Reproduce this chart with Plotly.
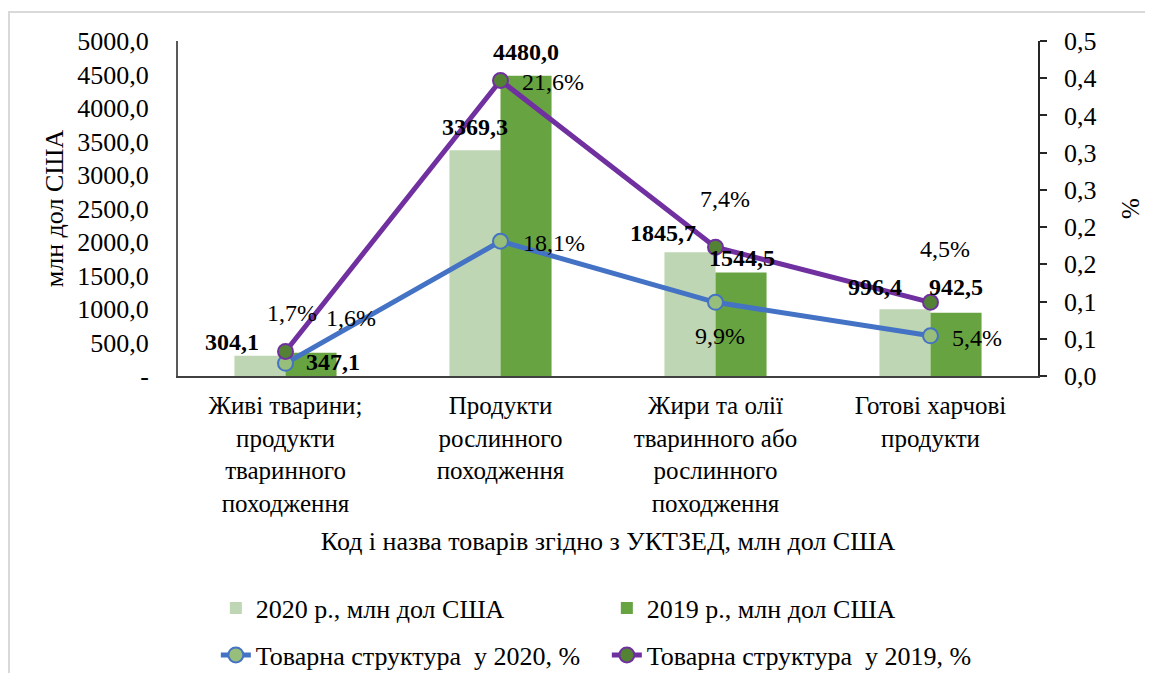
import plotly.graph_objects as go

categories = [
    "Живі тварини;<br>продукти<br>тваринного<br>походження",
    "Продукти<br>рослинного<br>походження",
    "Жири та олії<br>тваринного або<br>рослинного<br>походження",
    "Готові харчові<br>продукти",
]
values_2020 = [304.1, 3369.3, 1845.7, 996.4]
values_2019 = [347.1, 4480.0, 1544.5, 942.5]
labels_2020 = ["304,1", "3369,3", "1845,7", "996,4"]
labels_2019 = ["347,1", "4480,0", "1544,5", "942,5"]
# commodity structure shares (the 2019 line is stacked on top of the 2020 line)
struct_2020 = [0.017, 0.181, 0.099, 0.054]
struct_2019 = [0.016, 0.216, 0.074, 0.045]
struct_2020_text = ["1,7%", "18,1%", "9,9%", "5,4%"]
struct_2019_text = ["1,6%", "21,6%", "7,4%", "4,5%"]
left_ticks = [0, 500, 1000, 1500, 2000, 2500, 3000, 3500, 4000, 4500, 5000]
left_ticktext = ["-", "500,0", "1000,0", "1500,0", "2000,0", "2500,0", "3000,0",
                 "3500,0", "4000,0", "4500,0", "5000,0"]
right_ticks = [0, 0.05, 0.1, 0.15, 0.2, 0.25, 0.3, 0.35, 0.4, 0.45]
right_ticktext = ["0,0", "0,1", "0,1", "0,2", "0,2", "0,3", "0,3", "0,4", "0,4", "0,5"]

FONT = "Liberation Serif"
LIGHT = "#bed6b3"
DARK = "#68a342"
BLUE = "#4472c4"
PURPLE = "#7030a0"

fig = go.Figure()
fig.add_trace(go.Bar(x=categories, y=values_2020, name="2020 р., млн дол США",
                     marker=dict(color=LIGHT, line=dict(width=0)), legend="legend"))
fig.add_trace(go.Bar(x=categories, y=values_2019, name="2019 р., млн дол США",
                     marker=dict(color=DARK, line=dict(width=0)), legend="legend"))
fig.add_trace(go.Scatter(x=categories, y=struct_2020, yaxis="y2", mode="lines+markers",
                         stackgroup="struct", fill="none",
                         name="Товарна структура  у 2020, %",
                         line=dict(color=BLUE, width=5),
                         marker=dict(size=15, color="#97be7a", line=dict(color=BLUE, width=2)),
                         legend="legend2"))
fig.add_trace(go.Scatter(x=categories, y=struct_2019, yaxis="y2", mode="lines+markers",
                         stackgroup="struct", fill="none",
                         name="Товарна структура  у 2019, %",
                         line=dict(color=PURPLE, width=5),
                         marker=dict(size=15, color="#548235", line=dict(color=PURPLE, width=2)),
                         legend="legend2"))

annotations = []
bar_shift_2020 = [(-53.5, 13.6), (-25.5, 23.3), (-52.5, 19.3), (-55.5, 22.2)]
bar_shift_2019 = [(47.5, -9.3), (25.5, 23.8), (26.5, 14.5), (25.5, 25.9)]
for i in range(4):
    for vals, labs, shifts in ((values_2020, labels_2020, bar_shift_2020),
                               (values_2019, labels_2019, bar_shift_2019)):
        annotations.append(dict(x=i, y=vals[i], xref="x", yref="y", text="<b>" + labs[i] + "</b>",
                                showarrow=False, xshift=shifts[i][0], yshift=shifts[i][1],
                                font=dict(family=FONT, size=24, color="black")))
stacked_2019 = [a + b for a, b in zip(struct_2020, struct_2019)]
pct_shift_2020 = [(6.5, 50.3), (53.5, -1.3), (4.5, -33.3), (46.5, -2)]
pct_shift_2019 = [(65.5, 33.7), (52.5, -2), (9.5, 48), (14.5, 53.7)]
for i in range(4):
    for vals, labs, shifts in ((struct_2020, struct_2020_text, pct_shift_2020),
                               (stacked_2019, struct_2019_text, pct_shift_2019)):
        annotations.append(dict(x=i, y=vals[i], xref="x", yref="y2", text=labs[i],
                                showarrow=False, xshift=shifts[i][0], yshift=shifts[i][1],
                                font=dict(family=FONT, size=24, color="black")))

fig.update_layout(
    width=1145, height=665,
    margin=dict(l=170, r=115, t=33, b=297, autoexpand=False),
    paper_bgcolor="white", plot_bgcolor="white",
    font=dict(family=FONT, size=25, color="black"),
    barmode="group", bargap=0.525, bargroupgap=0,
    showlegend=True,
    xaxis=dict(type="category", showline=True, linecolor="#404040", linewidth=2,
               ticks="outside", ticklen=6, tickcolor="rgba(0,0,0,0)",
               tickfont=dict(family=FONT, size=25),
               title=dict(text="Код і назва товарів згідно з УКТЗЕД, млн дол США",
                          font=dict(family=FONT, size=26), standoff=16),
               showgrid=False, zeroline=False),
    yaxis=dict(range=[0, 5000], tickvals=left_ticks, ticktext=left_ticktext,
               showline=True, linecolor="#595959", linewidth=2, ticks="",
               ticklabelstandoff=22, tickfont=dict(family=FONT, size=26),
               title=dict(text="млн дол США", font=dict(family=FONT, size=26), standoff=6),
               showgrid=False, zeroline=False),
    yaxis2=dict(range=[0, 0.45], overlaying="y", side="right", tickvals=right_ticks,
                ticktext=right_ticktext, showline=True, linecolor="#262626", linewidth=1.5,
                ticks="outside", ticklen=7, tickcolor="#262626", tickwidth=1.5,
                ticklabelstandoff=12, tickfont=dict(family=FONT, size=26),
                title=dict(text="%", font=dict(family=FONT, size=25), standoff=26),
                showgrid=False, zeroline=False),
    legend=dict(orientation="h", x=0.044, xanchor="left", y=-0.6925, yanchor="middle",
                entrywidth=346, font=dict(family=FONT, size=26), bgcolor="rgba(0,0,0,0)"),
    legend2=dict(orientation="h", x=0.044, xanchor="left", y=-0.833, yanchor="middle",
                 entrywidth=346, font=dict(family=FONT, size=26), bgcolor="rgba(0,0,0,0)"),
    annotations=annotations,
    shapes=[dict(type="rect", xref="paper", yref="paper", x0=-0.1965, x1=1.2,
                 y0=-1.0, y1=1.0866, line=dict(color="#d9d9d9", width=2), layer="below")],
)

fig.write_html("out.html")
